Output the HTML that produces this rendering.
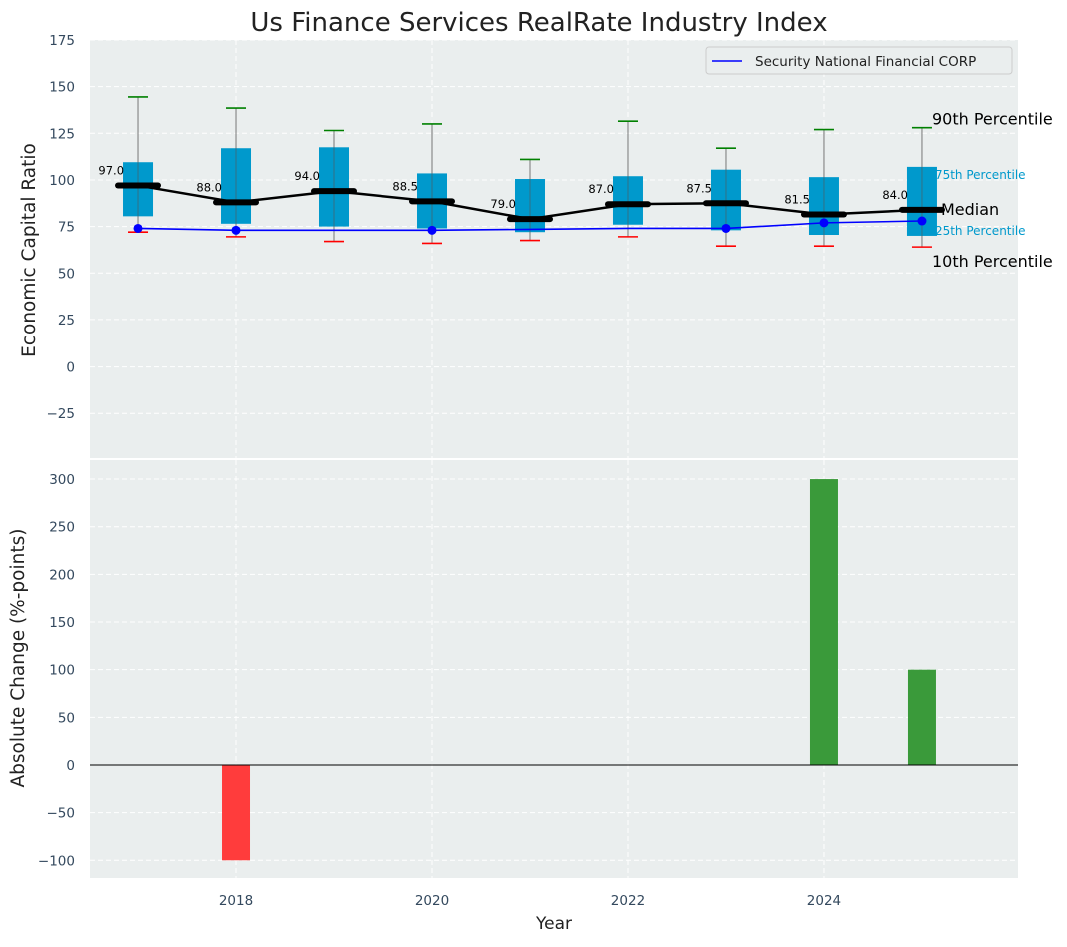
<!DOCTYPE html>
<html><head><meta charset="utf-8"><style>
body{margin:0;background:#fff;font-family:"Liberation Sans","DejaVu Sans",sans-serif;}
svg text{font-family:"DejaVu Sans","Liberation Sans",sans-serif;}
</style></head><body>
<svg id="chart" width="1067" height="942" xmlns="http://www.w3.org/2000/svg"></svg>
<script>
const years=[2017,2018,2019,2020,2021,2022,2023,2024,2025];
const p90=[144.5,138.5,126.5,130,111,131.5,117,127,128];
const p75=[109.5,117,117.5,103.5,100.5,102,105.5,101.5,107];
const median=[97,88,94,88.5,79,87,87.5,81.5,84];
const p25=[80.5,76.5,75,74,72,76,73,70.5,70];
const p10=[72,69.5,67,66,67.5,69.5,64.5,64.5,64];
const company=[74,73,73,73,73.5,74,74,77,78];
const companyMarker=[true,true,false,true,false,false,true,true,true];
const changes=[0,-100,0,0,0,0,0,300,100];
const topTicks=[-25,0,25,50,75,100,125,150,175];
const botTicks=[-100,-50,0,50,100,150,200,250,300];
const xTicks=[2018,2020,2022,2024];

const NS="http://www.w3.org/2000/svg";
const svg=document.getElementById('chart');
function el(tag,attrs,parent){const e=document.createElementNS(NS,tag);for(const k in attrs)e.setAttribute(k,attrs[k]);(parent||svg).appendChild(e);return e;}
const X0=90,X1=1018;
const xs=v=>X0+(v-2016.51)/(2025.98-2016.51)*(X1-X0);
const T0=40,T1=458,B0=460,B1=878;
const yt=v=>T1-(v-(-49))/(175-(-49))*(T1-T0);
const yb=v=>B1-(v-(-118.6))/(320-(-118.6))*(B1-B0);

let e;
e=el('rect',{x:X0,y:T0,width:X1-X0,height:T1-T0,fill:'#eaeeee'});

e=el('rect',{x:X0,y:B0,width:X1-X0,height:B1-B0,fill:'#eaeeee'});


topTicks.forEach(t=>{const y=yt(t);
 el('line',{x1:X0,x2:X1,y1:y,y2:y,stroke:'#fff','stroke-dasharray':'5,3','stroke-width':1});
 e=el('text',{x:X0-15,y:y+5,'text-anchor':'end','font-size':13.5,fill:'#34495e'});e.textContent=t<0?'\u2212'+(-t):t;
 });
botTicks.forEach(t=>{const y=yb(t);
 el('line',{x1:X0,x2:X1,y1:y,y2:y,stroke:'#fff','stroke-dasharray':'5,3','stroke-width':1});
 e=el('text',{x:X0-15,y:y+5,'text-anchor':'end','font-size':13.5,fill:'#34495e'});e.textContent=t<0?'\u2212'+(-t):t;
 });
xTicks.forEach(t=>{const x=xs(t);
 el('line',{x1:x,x2:x,y1:T0,y2:T1,stroke:'#fff','stroke-dasharray':'5,3'});
 el('line',{x1:x,x2:x,y1:B0,y2:B1,stroke:'#fff','stroke-dasharray':'5,3'});
 e=el('text',{x:x,y:905,'text-anchor':'middle','font-size':13.5,fill:'#34495e'});e.textContent=t;
 });

years.forEach((yr,i)=>{const x=xs(yr);
 const g=el('g',{});
 el('line',{x1:x,x2:x,y1:yt(p90[i]),y2:yt(p10[i]),stroke:'#777','stroke-width':1},g);
 el('rect',{x:x-15,y:yt(p75[i]),width:30,height:yt(p25[i])-yt(p75[i]),fill:'#0099cc'},g);
 el('line',{x1:x,x2:x,y1:yt(p75[i]),y2:yt(p25[i]),stroke:'#555','stroke-width':1,opacity:0.6},g);
 el('line',{x1:x-10,x2:x+10,y1:yt(p90[i]),y2:yt(p90[i]),stroke:'green','stroke-width':1.6},g);
 el('line',{x1:x-10,x2:x+10,y1:yt(p10[i]),y2:yt(p10[i]),stroke:'red','stroke-width':1.6},g);
});
e=el('polyline',{points:years.map((y,i)=>xs(y)+','+yt(company[i])).join(' '),fill:'none',stroke:'blue','stroke-width':1.6});

years.forEach((y,i)=>{if(companyMarker[i]){e=el('circle',{cx:xs(y),cy:yt(company[i]),r:4.5,fill:'blue'});
 }});
e=el('polyline',{points:years.map((y,i)=>xs(y)+','+yt(median[i])).join(' '),fill:'none',stroke:'#000','stroke-width':2.5});

years.forEach((y,i)=>{const x=xs(y),yy=yt(median[i]);
 e=el('line',{x1:x-20,x2:x+20,y1:yy,y2:yy,stroke:'#000','stroke-width':6,'stroke-linecap':'round'});
 
 e=el('text',{x:x-14,y:yy-11,'text-anchor':'end','font-size':11.5,fill:'#000'});e.textContent=median[i].toFixed(1);
 });
const lx=xs(2025),li=8;
[['90th Percentile',p90[li],'#000',16],['75th Percentile',p75[li],'#0099cc',12],['Median',median[li],'#000',16],['25th Percentile',p25[li],'#0099cc',12],['10th Percentile',p10[li],'#000',16]].forEach(a=>{
 const yy=yt(a[1]);let dy=a[0]==='90th Percentile'?-3:a[0]==='10th Percentile'?20:a[0]==='Median'?5:a[0].startsWith('75')?12:-1;
 e=el('text',{x:a[3]===16?lx+10:lx+13,y:yy+dy,'font-size':a[3],fill:a[2]});e.textContent=a[0];
 if(a[0]==='Median')e.setAttribute('x',lx+19);
 });

years.forEach((y,i)=>{const v=changes[i];if(v===0)return;const x=xs(y);
 e=el('rect',{x:x-14,y:Math.min(yb(v),yb(0)),width:28,height:Math.abs(yb(v)-yb(0)),fill:v>0?'#3a9a3a':'#ff3c3c'});
 });
e=el('line',{x1:X0,x2:X1,y1:yb(0),y2:yb(0),stroke:'#000','stroke-width':1});


const lg=el('g',{});
el('rect',{x:706,y:47,width:306,height:27,rx:3,fill:'#eaeeee',stroke:'#ccc'},lg);
el('line',{x1:712,x2:742,y1:61,y2:61,stroke:'blue','stroke-width':1.6},lg);
e=el('text',{x:755,y:66,'font-size':13.5,fill:'#222'},lg);e.textContent='Security National Financial CORP';

e=el('text',{x:539,y:31,'text-anchor':'middle','font-size':26,fill:'#222'});e.textContent='Us Finance Services RealRate Industry Index';

e=el('text',{x:554,y:929,'text-anchor':'middle','font-size':17,fill:'#222'});e.textContent='Year';

e=el('text',{x:0,y:0,'text-anchor':'middle','font-size':18.5,fill:'#222',transform:'translate(35,250) rotate(-90)'});e.textContent='Economic Capital Ratio';

e=el('text',{x:0,y:0,'text-anchor':'middle','font-size':18.5,fill:'#222',transform:'translate(24,658) rotate(-90)'});e.textContent='Absolute Change (%-points)';

</script>
</body></html>
